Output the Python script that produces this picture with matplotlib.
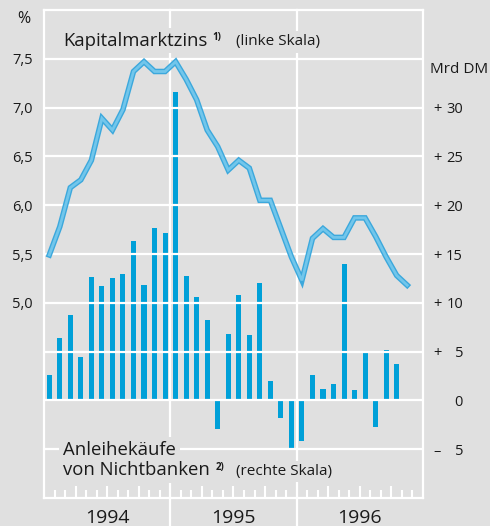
import matplotlib
matplotlib.use('Agg')
import matplotlib.pyplot as plt
from matplotlib.transforms import blended_transform_factory
import numpy as np

# ---------------- data ----------------
# Kapitalmarktzins (left scale, %), monthly Jan 1994 .. Nov 1996
rate = [5.49, 5.78, 6.18, 6.26, 6.46, 6.89, 6.77, 6.98, 7.37, 7.47, 7.37, 7.37,
        7.47, 7.29, 7.08, 6.77, 6.60, 6.36, 6.46, 6.38, 6.05, 6.05, 5.76, 5.47,
        5.23, 5.66, 5.76, 5.67, 5.67, 5.87, 5.87, 5.68, 5.47, 5.28, 5.18]
# Anleihekäufe von Nichtbanken (right scale, Mrd DM), monthly Jan 1994 .. Oct 1996
purchases = [2.6, 6.4, 8.8, 4.4, 12.6, 11.7, 12.5, 13.0, 16.3, 11.8, 17.7, 17.2,
             31.6, 12.7, 10.6, 8.2, -2.9, 6.8, 10.8, 6.7, 12.0, 2.0, -1.8, -4.9,
             -4.2, 2.6, 1.2, 1.7, 14.0, 1.1, 4.9, -2.7, 5.2, 3.7]
years = ['1994', '1995', '1996']
left_ticks = [5.0, 5.5, 6.0, 6.5, 7.0, 7.5]
left_labels = ['5,0', '5,5', '6,0', '6,5', '7,0', '7,5']
right_ticks = [30, 25, 20, 15, 10, 5, 0, -5]
right_labels = ['30', '25', '20', '15', '10', '5', '0', '5']
right_signs = ['+', '+', '+', '+', '+', '+', '', '–']

BG = '#e0e0e0'
BAR = '#00a0d8'
TXT = '#1a1a1a'
W, H = 490, 526

plt.rcParams['font.family'] = ['Open Sans', 'DejaVu Sans']

fig = plt.figure(figsize=(W / 100, H / 100), dpi=100, facecolor=BG)

def px(x, y):
    return (x / W, 1 - y / H)

ax = fig.add_axes([44 / W, 1 - 498 / H, 379 / W, 488 / H])
ax2 = ax.twinx()
ax.set_facecolor(BG)
ax.set_xlim(0, 36)
ax.set_ylim(-10, 40)
ax2.set_ylim(3, 8)
ax2.patch.set_visible(False)
for s in ax2.spines.values():
    s.set_visible(False)

# bars (right scale)
xb = np.arange(len(purchases)) + 0.5
ax.bar(xb, purchases, width=0.48, color=BAR, zorder=2, linewidth=0)

# horizontal gridlines
for v in range(-5, 40, 5):
    ax.axhline(v, color='white', lw=1.6, zorder=3)

# year separators, extending below the frame
for xv in (12, 24):
    ax.axvline(xv, ymin=-28 / 488, ymax=1, color='white', lw=1.6, zorder=3, clip_on=False)

for s in ax.spines.values():
    s.set_color('white')
    s.set_linewidth(1.6)
    s.set_zorder(4)

# month ticks
ax.set_xticks([3, 6, 9, 15, 18, 21, 27, 30, 33])
ax.set_xticks([m for m in range(1, 36) if m % 3 != 0], minor=True)
ax.tick_params(axis='x', which='major', direction='in', length=9, width=1.5,
               color='white', labelbottom=False)
ax.tick_params(axis='x', which='minor', direction='in', length=5.5, width=1.5,
               color='white')

# right scale numbers
ax.yaxis.tick_right()
ax.set_yticks(right_ticks)
ax.set_yticklabels(right_labels)
ax.tick_params(axis='y', length=0, pad=28.8, labelsize=10.5, labelcolor=TXT,
               left=False, labelleft=False, right=True, labelright=True)
for lab in ax.get_yticklabels():
    lab.set_ha('right')
tr_r = blended_transform_factory(fig.transFigure, ax.transData)
for v, s in zip(right_ticks, right_signs):
    if s:
        fig.text(437 / W, v, s, transform=tr_r, ha='center', va='center_baseline',
                 fontsize=10.5, color=TXT)

# year labels
tr_x = blended_transform_factory(ax.transData, fig.transFigure)
for i, y in enumerate(years):
    fig.text(6 + 12 * i, 1 - 523 / H, y, transform=tr_x, ha='center',
             va='baseline', fontsize=14, color=TXT)

# line (left scale)
xl = np.arange(len(rate)) + 0.5
ax2.plot(xl, rate, color='#3ca8dc', lw=4.0, solid_joinstyle='miter', zorder=5)
ax2.plot(xl, rate, color='#72c6eb', lw=2.0, solid_joinstyle='miter', zorder=6)
ax2.yaxis.tick_left()
ax2.set_yticks(left_ticks)
ax2.set_yticklabels(left_labels)
ax2.tick_params(axis='y', length=0, pad=8, labelsize=10.5, labelcolor=TXT,
                right=False, labelright=False, left=True, labelleft=True)

# texts
box = dict(boxstyle='square,pad=0.2', facecolor=BG, edgecolor='none')
fig.text(*px(23.5, 23), '%', ha='center', va='baseline', fontsize=11.5, color=TXT)
fig.text(*px(63, 45.5), 'Kapitalmarktzins', ha='left', va='baseline',
         fontsize=13.3, color=TXT, bbox=box)
fig.text(*px(212, 40), '1)', ha='left', va='baseline', fontsize=7,
         fontweight='bold', color=TXT, bbox=box)
fig.text(*px(236, 45.5), '(linke Skala)', ha='left', va='baseline',
         fontsize=11, color=TXT, bbox=box)
fig.text(*px(430, 73), 'Mrd DM', ha='left', va='baseline', fontsize=11, color=TXT)
fig.text(*px(63, 455), 'Anleihekäufe', ha='left', va='baseline',
         fontsize=13.3, color=TXT, bbox=box)
fig.text(*px(63, 475), 'von Nichtbanken', ha='left', va='baseline',
         fontsize=13.3, color=TXT, bbox=box)
fig.text(*px(216, 470), '2)', ha='left', va='baseline', fontsize=7,
         fontweight='bold', color=TXT, bbox=box)
fig.text(*px(236, 475), '(rechte Skala)', ha='left', va='baseline',
         fontsize=11, color=TXT, bbox=box)

fig.savefig('out.png', dpi=100, facecolor=BG)
